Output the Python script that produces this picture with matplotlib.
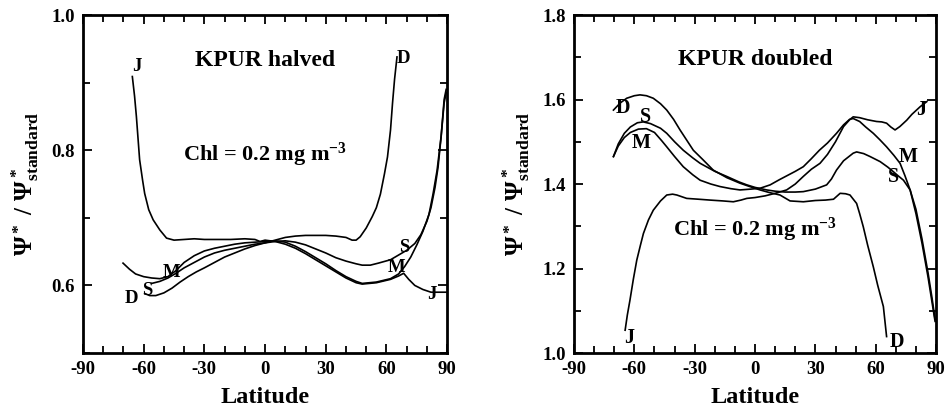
import numpy as np
import matplotlib
matplotlib.use('Agg')
import matplotlib.pyplot as plt
from matplotlib.ticker import MultipleLocator, FixedLocator

plt.rcParams['font.family'] = ['Liberation Serif', 'DejaVu Serif']
plt.rcParams['font.weight'] = 'bold'
plt.rcParams['axes.unicode_minus'] = False
plt.rcParams['mathtext.fontset'] = 'custom'
plt.rcParams['mathtext.rm'] = 'Liberation Serif:bold'
plt.rcParams['mathtext.it'] = 'Liberation Serif:bold'
plt.rcParams['mathtext.bf'] = 'Liberation Serif:bold'

# ---- KPUR halved ----
h_j_lat = [-65.6, -64.5, -63.6, -62, -60.5, -59.5, -57.5, -55.3, -52, -48.7, -45, -40, -35, -30,
           -24, -17, -10, -5, -2.5, 0, 5, 10, 15, 20, 25, 30, 35, 40, 45, 48, 55, 62, 66, 68.5,
           71, 74, 78, 82, 89.5]
h_j_val = [0.909, 0.88, 0.85, 0.786, 0.755, 0.736, 0.712, 0.697, 0.682, 0.670, 0.667, 0.668,
           0.669, 0.668, 0.668, 0.668, 0.669, 0.668, 0.665, 0.667, 0.665, 0.661, 0.655, 0.647,
           0.638, 0.629, 0.620, 0.611, 0.604, 0.602, 0.604, 0.609, 0.614, 0.618, 0.609, 0.600,
           0.594, 0.590, 0.590]

h_d_lat = [-59.5, -57, -54, -50, -46, -42, -38, -34, -30, -25, -20, -15, -10, -5, 0, 5, 10, 15,
           20, 25, 30, 35, 40, 43, 45, 47, 50, 53, 55, 57, 59, 60.5, 62, 63, 64, 65.2]
h_d_val = [0.588, 0.585, 0.585, 0.589, 0.596, 0.605, 0.613, 0.620, 0.626, 0.634, 0.642, 0.648,
           0.654, 0.659, 0.663, 0.667, 0.671, 0.673, 0.674, 0.674, 0.674, 0.673, 0.671, 0.667,
           0.667, 0.672, 0.685, 0.702, 0.715, 0.735, 0.765, 0.79, 0.83, 0.87, 0.905, 0.938]

h_m_lat = [-70.2, -67, -64, -60, -56, -52, -48, -44, -40, -35, -30, -25, -20, -15, -10, -5, 0,
           5, 10, 15, 20, 25, 30, 35, 40, 45, 48, 55, 62, 66, 69, 72, 75, 78, 81, 83, 85, 87,
           88.5, 89.5]
h_m_val = [0.633, 0.624, 0.617, 0.613, 0.611, 0.610, 0.613, 0.622, 0.634, 0.644, 0.651, 0.655,
           0.658, 0.661, 0.663, 0.664, 0.665, 0.666, 0.664, 0.658, 0.650, 0.641, 0.632, 0.622,
           0.613, 0.606, 0.603, 0.605, 0.610, 0.617, 0.628, 0.642, 0.660, 0.680, 0.705, 0.735,
           0.770, 0.820, 0.870, 0.885]

h_s_lat = [-56, -52, -48, -44, -40, -35, -30, -25, -20, -15, -10, -5, 0, 5, 10, 15, 20, 25, 30,
           35, 40, 45, 48, 52, 56, 62, 66, 70, 74, 77, 80, 82, 84, 85.5, 87, 88.5, 89.5]
h_s_val = [0.603, 0.606, 0.611, 0.618, 0.626, 0.634, 0.642, 0.648, 0.652, 0.655, 0.658, 0.661,
           0.663, 0.665, 0.666, 0.664, 0.660, 0.654, 0.648, 0.641, 0.636, 0.632, 0.630, 0.630,
           0.633, 0.638, 0.645, 0.652, 0.662, 0.675, 0.695, 0.715, 0.745, 0.775, 0.820, 0.875,
           0.890]

# ---- KPUR doubled ----
d_j_lat = [-64.6, -63.5, -62.2, -60.5, -58.8, -57, -55.5, -53, -50.6, -47, -43.9, -41, -38.9,
           -34, -28, -22.4, -16, -10.8, -7, -4.1, 0, 5, 10, 15.7, 20, 24, 28, 32.3, 36, 40, 44,
           47, 48.8, 52, 56, 60.4, 63, 65.4, 67.5, 69.6, 72, 75.4, 78, 82.1, 85.4]
d_j_val = [1.054, 1.09, 1.125, 1.175, 1.220, 1.255, 1.283, 1.315, 1.338, 1.360, 1.374, 1.376,
           1.374, 1.366, 1.364, 1.362, 1.360, 1.358, 1.362, 1.366, 1.368, 1.372, 1.378, 1.386,
           1.400, 1.418, 1.435, 1.449, 1.470, 1.500, 1.536, 1.552, 1.559, 1.557, 1.552, 1.548,
           1.547, 1.544, 1.535, 1.528, 1.536, 1.551, 1.565, 1.583, 1.595]

d_d_lat = [-70.4, -67, -63.8, -60, -57.2, -54, -50.6, -47, -43.9, -40.5, -37.3, -34, -30.7, -26,
           -20.8, -14, -7.5, -2, 2.5, 7, 12.4, 17.4, 24, 30, 35, 39, 42.3, 45, 47.2, 50.5, 52,
           53.8, 56, 58.8, 61, 63.8, 65.4]
d_d_val = [1.575, 1.592, 1.603, 1.609, 1.611, 1.609, 1.603, 1.590, 1.575, 1.553, 1.528, 1.504,
           1.480, 1.458, 1.433, 1.415, 1.402, 1.393, 1.386, 1.380, 1.374, 1.360, 1.358, 1.361,
           1.362, 1.364, 1.378, 1.377, 1.374, 1.354, 1.330, 1.299, 1.255, 1.204, 1.160, 1.110,
           1.039]

d_m_lat = [-70.4, -68, -65, -62, -58, -54, -50, -46.5, -43.9, -40, -35.7, -31, -27.3, -22, -17.4,
           -12, -7.5, -2, 2.5, 7.5, 12, 16, 20, 24, 28, 32, 36, 40.5, 44, 47, 48.8, 52, 55, 58.8,
           62, 65.4, 69, 72.1, 74.5, 77.1, 80, 83, 86, 88, 89.5]
d_m_val = [1.465, 1.490, 1.510, 1.522, 1.530, 1.531, 1.522, 1.503, 1.488, 1.465, 1.441, 1.422,
           1.409, 1.400, 1.394, 1.389, 1.386, 1.388, 1.390, 1.398, 1.410, 1.420, 1.430, 1.441,
           1.460, 1.480, 1.497, 1.520, 1.540, 1.553, 1.555, 1.548, 1.535, 1.520, 1.505, 1.488,
           1.468, 1.449, 1.420, 1.386, 1.330, 1.260, 1.180, 1.120, 1.075]

d_s_lat = [-70.4, -68, -65, -62, -58.5, -55.6, -52, -47, -43.9, -40, -35.7, -31, -27.3, -20,
           -14.1, -8, -4.1, 0, 5.8, 10, 15, 20, 24, 30, 35.6, 38, 40.5, 44, 48.8, 50.5, 54, 57.2,
           62.2, 66, 68.8, 71, 73.8, 77.1, 80, 83, 86, 88, 89.5]
d_s_val = [1.465, 1.495, 1.520, 1.535, 1.545, 1.547, 1.543, 1.532, 1.520, 1.500, 1.480, 1.462,
           1.449, 1.430, 1.418, 1.405, 1.398, 1.392, 1.386, 1.383, 1.381, 1.381, 1.382, 1.388,
           1.398, 1.412, 1.433, 1.455, 1.473, 1.476, 1.472, 1.465, 1.453, 1.440, 1.429, 1.420,
           1.409, 1.386, 1.340, 1.270, 1.190, 1.130, 1.080]

# curve labels: (text, lat, value)
halved_labels = [('J', -63.5, 0.924), ('D', 68.4, 0.936), ('M', -46.1, 0.619), ('S', -58.5, 0.593),
                 ('D', -65.9, 0.581), ('S', 69.0, 0.656), ('M', 65.2, 0.626), ('J', 82.4, 0.586)]
doubled_labels = [('D', -65.5, 1.581), ('S', -54.7, 1.559), ('M', -56.4, 1.496), ('J', -62.5, 1.035),
                  ('J', 82.8, 1.575), ('M', 76.2, 1.465), ('S', 68.8, 1.417), ('D', 70.4, 1.027)]

fig = plt.figure(figsize=(9.46, 4.11), dpi=100)
ax1 = fig.add_axes([0.0877, 0.141, 0.385, 0.8225])
ax2 = fig.add_axes([0.6068, 0.141, 0.3827, 0.8225])

ylab = r'$\mathrm{\Psi^*\ /\ \Psi^*_{standard}}$'

def style_axes(ax, ylim, major_y, minor_y):
    ax.set_xlim(-90, 90)
    ax.set_ylim(*ylim)
    ax.xaxis.set_major_locator(MultipleLocator(30))
    ax.xaxis.set_minor_locator(MultipleLocator(10))
    ax.yaxis.set_major_locator(FixedLocator(major_y))
    ax.yaxis.set_minor_locator(FixedLocator(minor_y))
    ax.yaxis.set_major_formatter(matplotlib.ticker.FormatStrFormatter('%.1f'))
    ax.tick_params(which='both', direction='in', top=True, right=True, width=1.3)
    ax.tick_params(which='major', length=6.5, labelsize=13.5, pad=6)
    ax.tick_params(which='minor', length=5)
    for lab in ax.get_xticklabels() + ax.get_yticklabels():
        lab.set_fontweight('bold')
    for sp in ax.spines.values():
        sp.set_linewidth(2.0)
    ax.set_xlabel('Latitude', fontsize=17.5, fontweight='bold')
    ax.xaxis.set_label_coords(0.5, -0.1)
    ax.set_ylabel(ylab, fontsize=18)
    ax.yaxis.set_label_coords(-0.115, 0.5)

# left panel
for lat, val in [(h_j_lat, h_j_val), (h_d_lat, h_d_val), (h_m_lat, h_m_val), (h_s_lat, h_s_val)]:
    ax1.plot(lat, val, color='black', lw=1.2)
style_axes(ax1, (0.5, 1.0), [0.6, 0.8, 1.0], [0.5, 0.7, 0.9])
for t, x, y in halved_labels:
    ax1.text(x, y, t, fontsize=13.5, fontweight='bold', ha='center', va='center')
ax1.text(0, 0.933, 'KPUR halved', fontsize=17, fontweight='bold', ha='center', va='center')
ax1.text(0, 0.793, r'Chl = 0.2 mg m$^{-3}$', fontsize=16, fontweight='bold', ha='center', va='center')

# right panel
for lat, val in [(d_j_lat, d_j_val), (d_d_lat, d_d_val), (d_m_lat, d_m_val), (d_s_lat, d_s_val)]:
    ax2.plot(lat, val, color='black', lw=1.2)
style_axes(ax2, (1.0, 1.8), [1.0, 1.2, 1.4, 1.6, 1.8], [1.1, 1.3, 1.5, 1.7])
for t, x, y in doubled_labels:
    ax2.text(x, y, t, fontsize=14.5, fontweight='bold', ha='center', va='center')
ax2.text(0, 1.694, 'KPUR doubled', fontsize=17, fontweight='bold', ha='center', va='center')
ax2.text(0, 1.291, r'Chl = 0.2 mg m$^{-3}$', fontsize=16, fontweight='bold', ha='center', va='center')

fig.savefig('out.png', dpi=100)
